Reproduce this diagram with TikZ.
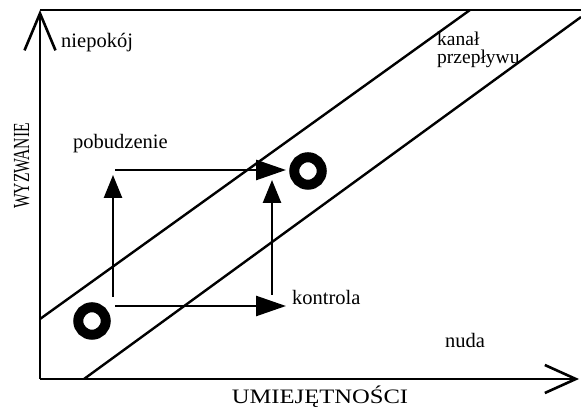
\documentclass[tikz,border=0pt]{standalone}
\usepackage{fontspec}
\setmainfont{Liberation Serif}
\usetikzlibrary{arrows.meta}
\begin{document}
\begin{tikzpicture}[x=1pt,y=-1pt,
  axis/.style={line width=2.6pt},
  diag/.style={line width=2.4pt},
  harrow/.style={line width=2.6pt,-{Triangle[length=30pt,width=20pt]}},
  varrow/.style={line width=2.6pt,-{Triangle[length=23pt,width=18pt]}},
  ring/.style={line width=10pt},
  lbl/.style={inner sep=0pt,font=\fontsize{20.5}{16}\selectfont}]
\useasboundingbox (0,0) rectangle (581,411);
% axes
\coordinate (O) at (40,379);
\coordinate (Ytop) at (40,10);
\coordinate (Xend) at (579,379);
\coordinate (TR) at (581,10);
\draw[axis,-{Straight Barb[length=37pt,width=31pt]}] (O) -- (Ytop);
\draw[axis,-{Straight Barb[length=31pt,width=28pt]}] (O) -- (Xend);
\draw[axis] (Ytop) -- (TR);
% channel
\coordinate (u1) at (40,319);
\coordinate (u2) at (470,10);
\coordinate (l1) at (84,379);
\coordinate (l2) at (581,17);
\draw[diag] (u1) -- (u2);
\draw[diag] (l1) -- (l2);
% rings
\draw[ring] (92,321) circle (13.75);
\draw[ring] (308,171) circle (13.75);
% arrows
\coordinate (a1) at (113,297);
\coordinate (a2) at (113,175);
\coordinate (b1) at (115,306);
\coordinate (b2) at (286,306);
\coordinate (c1) at (115,170);
\coordinate (c2) at (286,170);
\coordinate (d1) at (272,295);
\coordinate (d2) at (272,180);
\draw[varrow] (a1) -- (a2);
\draw[harrow] (b1) -- (b2);
\draw[harrow] (c1) -- (c2);
\draw[varrow] (d1) -- (d2);
% labels
\node[lbl,anchor=base west] (niep) at (61,48) {niepokój};
\node[lbl,anchor=base west,align=left,font=\fontsize{19.5}{18}\selectfont] (kanal) at (437,64) {kanał\\przepływu};
\node[lbl,anchor=base west] (pob) at (73,149) {pobudzenie};
\node[lbl,anchor=base west] (kon) at (292,305) {kontrola};
\node[lbl,anchor=base west] (nuda) at (445,348) {nuda};
\node[lbl,anchor=base] (umie) at (320,403) {\scalebox{1.2}[1]{UMIEJĘTNOŚCI}};
\node[lbl,anchor=base,rotate=90,font=\fontsize{23}{20}\selectfont] (wyz) at (29,166) {\scalebox{0.68}[1]{WYZWANIE}};
\end{tikzpicture}
\end{document}
